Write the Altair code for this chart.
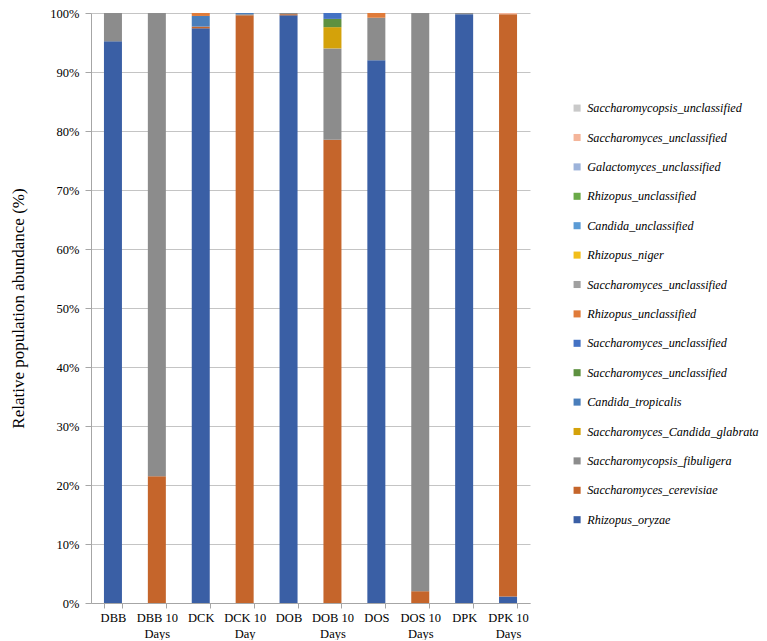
import altair as alt
import pandas as pd

categories = ["DBB", "DBB 10 Days", "DCK", "DCK 10 Day", "DOB", "DOB 10 Days",
              "DOS", "DOS 10 Days", "DPK", "DPK 10 Days"]

# stacking order: bottom -> top
series_names = [
    "Rhizopus_oryzae", "Saccharomyces_cerevisiae", "Saccharomycopsis_fibuligera",
    "Saccharomyces_Candida_glabrata", "Candida_tropicalis", "Saccharomyces_unclassified",
    "Saccharomyces_unclassified", "Rhizopus_unclassified", "Saccharomyces_unclassified",
    "Rhizopus_niger", "Candida_unclassified", "Rhizopus_unclassified",
    "Galactomyces_unclassified", "Saccharomyces_unclassified", "Saccharomycopsis_unclassified",
]
series_colors = [
    "#3A5FA5", "#C5652B", "#8C8C8C", "#D4A20A", "#4A7EBB", "#5E9140",
    "#4472C4", "#E07B39", "#A0A0A0", "#F2BE1A", "#5B9BD5", "#6AAA48",
    "#9DB3DA", "#F4B59A", "#C9C9C9",
]

rhizopus_oryzae = [95.2, 0, 97.4, 0, 99.6, 0, 92.0, 0, 99.8, 1.1]
saccharomyces_cerevisiae = [0, 21.5, 0.3, 99.6, 0.2, 78.5, 0, 2.0, 0, 98.7]
saccharomycopsis_fibuligera = [4.8, 78.5, 0, 0.2, 0.2, 15.5, 7.2, 98.0, 0.2, 0]
saccharomyces_candida_glabrata = [0, 0, 0, 0, 0, 3.6, 0, 0, 0, 0]
candida_tropicalis = [0, 0, 1.8, 0.2, 0, 0, 0, 0, 0, 0]
saccharomyces_uncl_green = [0, 0, 0, 0, 0, 1.4, 0, 0, 0, 0]
saccharomyces_uncl_blue = [0, 0, 0, 0, 0, 1.0, 0, 0, 0, 0]
rhizopus_uncl_orange = [0, 0, 0.5, 0, 0, 0, 0.8, 0, 0, 0]
saccharomyces_uncl_gray = [0, 0, 0, 0, 0, 0, 0, 0, 0, 0]
rhizopus_niger = [0, 0, 0, 0, 0, 0, 0, 0, 0, 0]
candida_unclassified = [0, 0, 0, 0, 0, 0, 0, 0, 0, 0]
rhizopus_uncl_green = [0, 0, 0, 0, 0, 0, 0, 0, 0, 0]
galactomyces_unclassified = [0, 0, 0, 0, 0, 0, 0, 0, 0, 0]
saccharomyces_uncl_salmon = [0, 0, 0, 0, 0, 0, 0, 0, 0, 0.2]
saccharomycopsis_unclassified = [0, 0, 0, 0, 0, 0, 0, 0, 0, 0]

series_values = [
    rhizopus_oryzae, saccharomyces_cerevisiae, saccharomycopsis_fibuligera,
    saccharomyces_candida_glabrata, candida_tropicalis, saccharomyces_uncl_green,
    saccharomyces_uncl_blue, rhizopus_uncl_orange, saccharomyces_uncl_gray,
    rhizopus_niger, candida_unclassified, rhizopus_uncl_green,
    galactomyces_unclassified, saccharomyces_uncl_salmon, saccharomycopsis_unclassified,
]

# make duplicate names unique with invisible trailing spaces
seen = {}
labels = []
for n in series_names:
    k = seen.get(n, 0)
    labels.append(n + " " * k)
    seen[n] = k + 1

rows = []
for i, vals in enumerate(series_values):
    for c, v in zip(categories, vals):
        if v > 0:
            rows.append({"sample": c, "taxon": labels[i], "rank": i, "pct": v})
df = pd.DataFrame(rows)

legend_domain = labels[::-1]
legend_range = series_colors[::-1]

serif = "Liberation Serif"

chart = alt.Chart(df).mark_bar().encode(
    x=alt.X("sample:N", sort=categories,
            scale=alt.Scale(paddingInner=0.59, paddingOuter=0.295),
            axis=alt.Axis(title=None, labelAngle=0,
                          labelExpr="split(replace(datum.label, ' 10 ', ' 10|'), '|')",
                          tickBand="extent", grid=False, labelFont=serif,
                          labelFontSize=12.5, labelColor="#000000", labelPadding=3,
                          labelLineHeight=16,
                          domainColor="#A6A6A6", tickColor="#A6A6A6", tickSize=5)),
    y=alt.Y("pct:Q", stack=True,
            scale=alt.Scale(domain=[0, 100], nice=False),
            axis=alt.Axis(title="Relative population abundance (%)",
                          values=list(range(0, 101, 10)),
                          labelExpr="datum.value + '%'",
                          labelFont=serif, labelFontSize=12.5, labelColor="#000000",
                          titleFont=serif, titleFontSize=17, titleFontWeight="normal",
                          titleColor="#000000", titlePadding=22,
                          domainColor="#A6A6A6", tickColor="#A6A6A6", tickSize=6,
                          gridColor="#C4C4C4", labelPadding=6)),
    color=alt.Color("taxon:N",
                    scale=alt.Scale(domain=legend_domain, range=legend_range),
                    legend=alt.Legend(title=None, orient="none", legendX=480, legendY=89,
                                      symbolType="square", symbolSize=50,
                                      labelFont=serif, labelFontStyle="italic",
                                      labelFontSize=12.2, labelColor="#000000",
                                      labelLimit=300, rowPadding=16.4)),
    order=alt.Order("rank:Q", sort="ascending"),
).properties(
    width=439, height=590,
    autosize=alt.AutoSizeParams(type="none"),
    padding={"left": 83, "top": 5, "right": 229, "bottom": 37},
).configure(font=serif).configure_view(stroke=None)

chart.save("out.html", embed_options={"renderer": "svg", "actions": False})
